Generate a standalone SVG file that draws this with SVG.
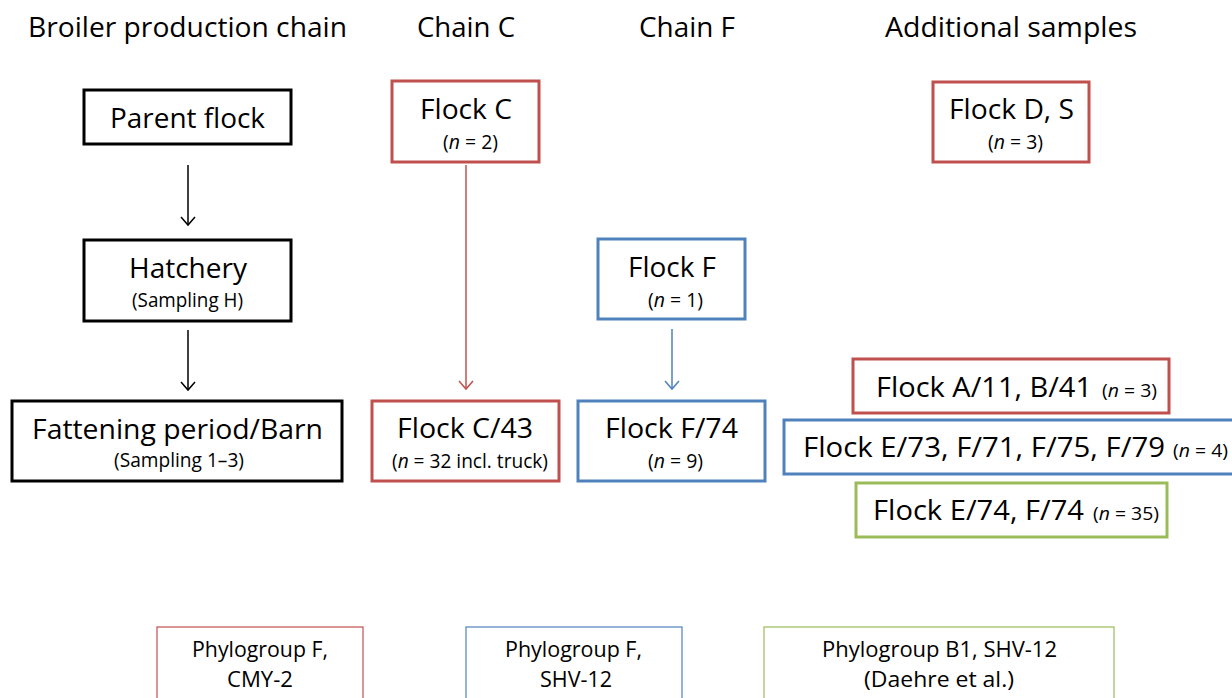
<svg xmlns="http://www.w3.org/2000/svg" width="1232" height="698" viewBox="0 0 1232 698">
<style>
text{font-family:"Open Sans","Liberation Sans",sans-serif;fill:#000;text-anchor:middle}
.h{font-size:27px}
.m{font-size:28px}
.s{font-size:19.5px}
.xs{font-size:18px}
.b{font-size:21px}
.k{fill:#fff;stroke:#000;stroke-width:3}
.r{fill:#fff;stroke:#C0504D;stroke-width:3}
.u{fill:#fff;stroke:#4F81BD;stroke-width:3}
.g{fill:#fff;stroke:#9BBB59;stroke-width:3}
.r1{fill:#fff;stroke:#C0504D;stroke-width:1.2}
.u1{fill:#fff;stroke:#4F81BD;stroke-width:1.2}
.g1{fill:#fff;stroke:#9BBB59;stroke-width:1.2}
.i{font-style:italic}
</style>
<defs>
<marker id="ak" markerWidth="16" markerHeight="16" refX="14" refY="8" orient="auto" markerUnits="userSpaceOnUse" viewBox="0 0 16 16"><path d="M6,1 L14,8 L6,15" fill="none" stroke="#000" stroke-width="1.5"/></marker>
<marker id="ar" markerWidth="16" markerHeight="16" refX="14" refY="8" orient="auto" markerUnits="userSpaceOnUse" viewBox="0 0 16 16"><path d="M6,1 L14,8 L6,15" fill="none" stroke="#C0504D" stroke-width="1.5"/></marker>
<marker id="au" markerWidth="16" markerHeight="16" refX="14" refY="8" orient="auto" markerUnits="userSpaceOnUse" viewBox="0 0 16 16"><path d="M6,1 L14,8 L6,15" fill="none" stroke="#4F81BD" stroke-width="1.5"/></marker>
</defs>
<rect width="1232" height="698" fill="#fff"/>
<g id="headers">
<text class="h" x="187.5" y="37" textLength="319" lengthAdjust="spacingAndGlyphs">Broiler production chain</text>
<text class="h" x="466" y="37" textLength="98" lengthAdjust="spacingAndGlyphs">Chain C</text>
<text class="h" x="687" y="37" textLength="96" lengthAdjust="spacingAndGlyphs">Chain F</text>
<text class="h" x="1011" y="37" textLength="252" lengthAdjust="spacingAndGlyphs">Additional samples</text>
</g>
<g id="connectors">
<line x1="188" y1="165" x2="188" y2="225" stroke="#000" stroke-width="1.5" marker-end="url(#ak)"/>
<line x1="188" y1="330" x2="188" y2="390" stroke="#000" stroke-width="1.5" marker-end="url(#ak)"/>
<line x1="466" y1="165" x2="466" y2="389" stroke="#C0504D" stroke-width="1.5" marker-end="url(#ar)"/>
<line x1="672" y1="329" x2="672" y2="389" stroke="#4F81BD" stroke-width="1.5" marker-end="url(#au)"/>
</g>
<g id="parent-flock">
<rect class="k" x="84" y="90" width="207" height="54"/>
<text class="m" x="187.5" y="128" textLength="155" lengthAdjust="spacingAndGlyphs">Parent flock</text>
</g>
<g id="hatchery">
<rect class="k" x="84" y="240" width="207" height="81"/>
<text class="m" x="188" y="278" textLength="118" lengthAdjust="spacingAndGlyphs">Hatchery</text>
<text class="s" x="187.5" y="307" textLength="111" lengthAdjust="spacingAndGlyphs">(Sampling H)</text>
</g>
<g id="fattening">
<rect class="k" x="12" y="401" width="330" height="80"/>
<text class="m" x="177.5" y="439" textLength="291" lengthAdjust="spacingAndGlyphs">Fattening period/Barn</text>
<text class="s" x="179" y="467" textLength="130" lengthAdjust="spacingAndGlyphs">(Sampling 1–3)</text>
</g>
<g id="flock-c">
<rect class="r" x="392" y="81" width="147" height="81"/>
<text class="m" x="466" y="119" textLength="92" lengthAdjust="spacingAndGlyphs">Flock C</text>
<text class="s" x="470.5" y="149" textLength="55" lengthAdjust="spacingAndGlyphs">(<tspan class="i">n</tspan> = 2)</text>
</g>
<g id="flock-c43">
<rect class="r" x="372" y="401" width="187" height="80"/>
<text class="m" x="465" y="438" textLength="136" lengthAdjust="spacingAndGlyphs">Flock C/43</text>
<text class="s" x="470" y="468" textLength="156" lengthAdjust="spacingAndGlyphs">(<tspan class="i">n</tspan> = 32 incl. truck)</text>
</g>
<g id="flock-f">
<rect class="u" x="598" y="239" width="147" height="80"/>
<text class="m" x="672" y="277" textLength="88" lengthAdjust="spacingAndGlyphs">Flock F</text>
<text class="s" x="675.5" y="307" textLength="55" lengthAdjust="spacingAndGlyphs">(<tspan class="i">n</tspan> = 1)</text>
</g>
<g id="flock-f74">
<rect class="u" x="578" y="401" width="187" height="80"/>
<text class="m" x="671.5" y="438" textLength="133" lengthAdjust="spacingAndGlyphs">Flock F/74</text>
<text class="s" x="675.5" y="468" textLength="55" lengthAdjust="spacingAndGlyphs">(<tspan class="i">n</tspan> = 9)</text>
</g>
<g id="flock-ds">
<rect class="r" x="933" y="82" width="156" height="80"/>
<text class="m" x="1011.5" y="119" textLength="125" lengthAdjust="spacingAndGlyphs">Flock D, S</text>
<text class="s" x="1015.5" y="149" textLength="55" lengthAdjust="spacingAndGlyphs">(<tspan class="i">n</tspan> = 3)</text>
</g>
<g id="flock-a11-b41">
<rect class="r" x="853" y="359" width="316" height="54"/>
<text class="m" x="984" y="397" textLength="216" lengthAdjust="spacingAndGlyphs">Flock A/11, B/41</text>
<text class="xs" x="1129.5" y="397" textLength="55" lengthAdjust="spacingAndGlyphs">(<tspan class="i">n</tspan> = 3)</text>
</g>
<g id="flock-e73">
<rect class="u" x="784" y="420" width="460" height="54"/>
<text class="m" x="984" y="457" textLength="362" lengthAdjust="spacingAndGlyphs">Flock E/73, F/71, F/75, F/79</text>
<text class="xs" x="1200.5" y="457" textLength="55" lengthAdjust="spacingAndGlyphs">(<tspan class="i">n</tspan> = 4)</text>
</g>
<g id="flock-e74">
<rect class="g" x="856" y="483" width="311" height="54"/>
<text class="m" x="978.5" y="520" textLength="211" lengthAdjust="spacingAndGlyphs">Flock E/74, F/74</text>
<text class="xs" x="1126" y="520" textLength="66" lengthAdjust="spacingAndGlyphs">(<tspan class="i">n</tspan> = 35)</text>
</g>
<g id="legend-red">
<rect class="r1" x="157" y="627" width="206" height="80"/>
<text class="b" x="260" y="657" textLength="136" lengthAdjust="spacingAndGlyphs">Phylogroup F,</text>
<text class="b" x="260" y="687" textLength="66" lengthAdjust="spacingAndGlyphs">CMY-2</text>
</g>
<g id="legend-blue">
<rect class="u1" x="466" y="627" width="216" height="80"/>
<text class="b" x="573.5" y="657" textLength="137" lengthAdjust="spacingAndGlyphs">Phylogroup F,</text>
<text class="b" x="576" y="687" textLength="72" lengthAdjust="spacingAndGlyphs">SHV-12</text>
</g>
<g id="legend-green">
<rect class="g1" x="764" y="627" width="350" height="80"/>
<text class="b" x="939.5" y="657" textLength="235" lengthAdjust="spacingAndGlyphs">Phylogroup B1, SHV-12</text>
<text class="b" x="939" y="687" textLength="150" lengthAdjust="spacingAndGlyphs">(Daehre et al.)</text>
</g>
</svg>
